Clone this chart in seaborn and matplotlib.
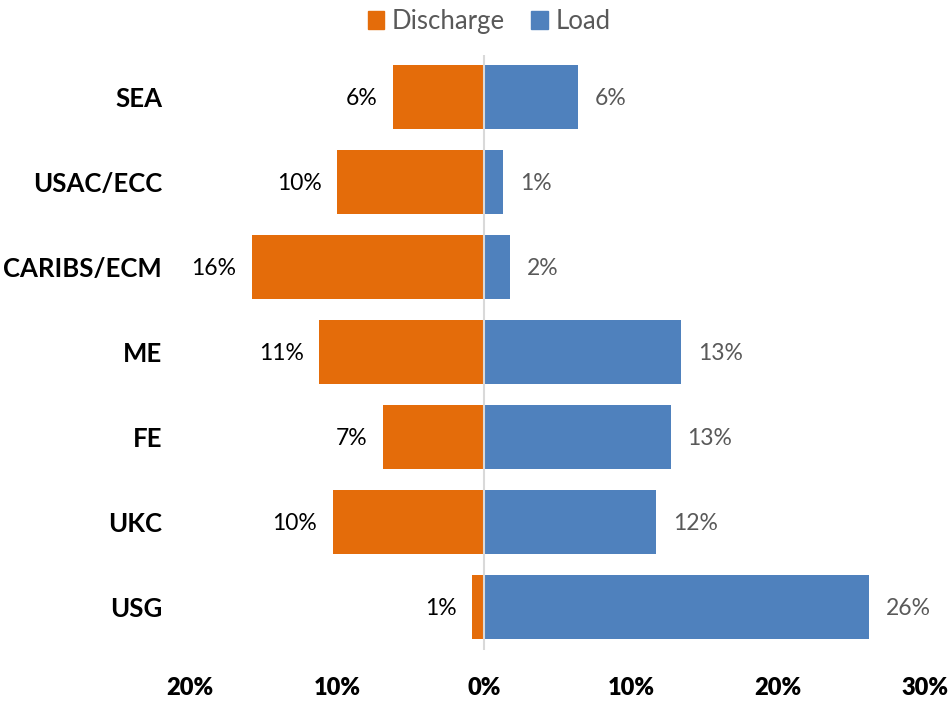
import matplotlib
matplotlib.use("Agg")
import matplotlib.pyplot as plt
import seaborn as sns
import pandas as pd
from matplotlib.patches import Patch
from matplotlib.ticker import FuncFormatter

regions = ["SEA", "USAC/ECC", "CARIBS/ECM", "ME", "FE", "UKC", "USG"]
discharge = [6.2, 10.0, 15.8, 11.2, 6.9, 10.3, 0.8]
load = [6.4, 1.3, 1.8, 13.4, 12.7, 11.7, 26.2]
series_names = ["Discharge", "Load"]
x_ticks = [-20, -10, 0, 10, 20, 30]

ORANGE = "#E46C0A"
BLUE = "#4F81BD"
GREY = "#595959"

sns.set_theme(style="white")
plt.rcParams["font.family"] = ["Lato", "DejaVu Sans"]

df = pd.DataFrame({
    "region": regions * 2,
    "value": [-v for v in discharge] + load,
    "series": [series_names[0]] * len(regions) + [series_names[1]] * len(regions),
})

fig = plt.figure(figsize=(9.52, 7.02), dpi=100)
ax = fig.add_axes([190 / 952, 1 - 649.5 / 702, (925 - 190) / 952, (649.5 - 54.5) / 702])

sns.barplot(data=df, y="region", x="value", hue="series", order=regions,
            hue_order=series_names, palette=[ORANGE, BLUE], dodge=False,
            orient="h", width=0.76, legend=False, ax=ax, linewidth=0,
            saturation=1)

ax.set_xlim(-20, 30)
ax.set_ylim(6.5, -0.5)
ax.set_xticks(x_ticks)
ax.xaxis.set_major_formatter(FuncFormatter(lambda v, p: f"{abs(v):.0f}%"))
ax.set_xlabel("")
ax.set_ylabel("")
ax.tick_params(axis="x", length=0, pad=20)
ax.tick_params(axis="y", length=0, pad=20)
for lab in ax.get_xticklabels():
    lab.set_fontweight("heavy")
    lab.set_color("black")
    lab.set_fontsize(17)
for lab in ax.get_yticklabels():
    lab.set_fontweight("bold")
    lab.set_color("black")
    lab.set_fontsize(18.5)

for s in ax.spines.values():
    s.set_visible(False)
ax.axvline(0, color="#D9D9D9", lw=1.5, zorder=3)

for i, (d, l) in enumerate(zip(discharge, load)):
    ax.annotate(f"{d:.0f}%", xy=(-d, i), xytext=(-11, -1), textcoords="offset points",
                ha="right", va="center", fontsize=16.5, color="black")
    ax.annotate(f"{l:.0f}%", xy=(l, i), xytext=(12, -1), textcoords="offset points",
                ha="left", va="center", fontsize=16.5, color=GREY)

handles = [Patch(color=ORANGE, label=series_names[0]), Patch(color=BLUE, label=series_names[1])]
fig.legend(handles=handles, loc="center", bbox_to_anchor=(489 / 952, 1 - 21.5 / 702),
           ncol=2, frameon=False, fontsize=18.5, handlelength=0.65, handleheight=0.65,
           handletextpad=0.3, columnspacing=1.0, labelcolor=GREY)

fig.savefig("out.png", dpi=100)
